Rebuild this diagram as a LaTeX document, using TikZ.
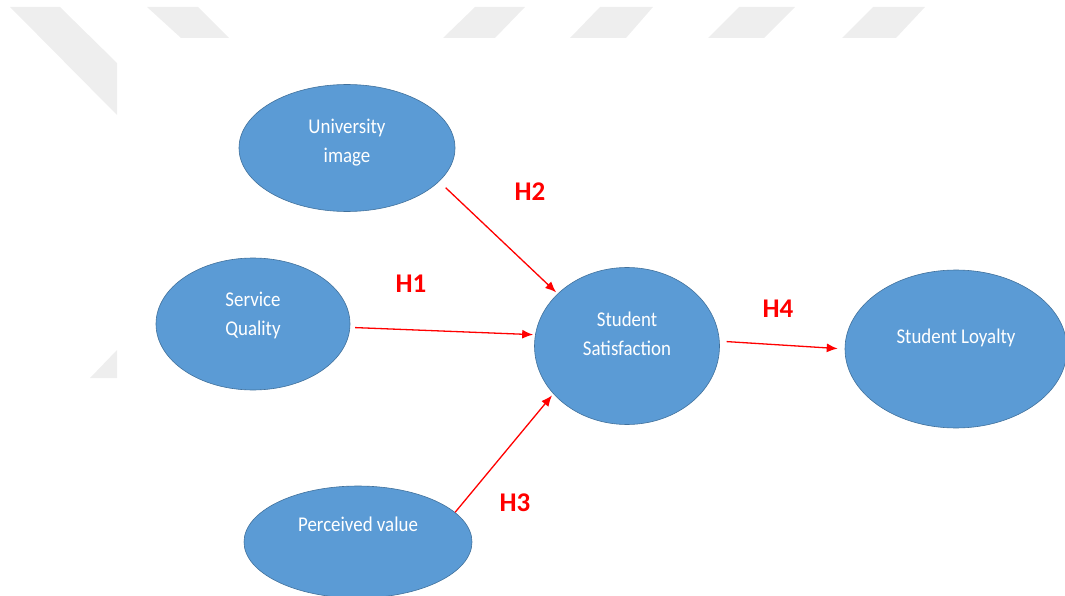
\documentclass[tikz,border=0pt]{standalone}
\usepackage{fontspec}
\setmainfont{Carlito}
\newfontfamily\bubblefont{Carlito}[FakeStretch=0.9]
\usetikzlibrary{shapes.geometric,arrows.meta}

\definecolor{bubbleblue}{RGB}{91,155,213}
\definecolor{bubbleedge}{RGB}{65,113,156}
\definecolor{hypred}{RGB}{255,0,0}
\definecolor{wmgray}{RGB}{238,238,238}

\tikzset{
  construct/.style={ellipse, draw=bubbleedge, fill=bubbleblue, line width=0.6pt,
    text=white, align=center, inner sep=0pt,
    font=\bubblefont\fontsize{21}{29}\selectfont},
  hyp/.style={draw=hypred, line width=1.3pt, -{Latex[length=11pt,width=9pt]}},
  hyplabel/.style={text=hypred, font=\bfseries\fontsize{27}{30}\selectfont},
  wm/.style={fill=wmgray, draw=none}
}

\begin{document}
\begin{tikzpicture}[x=1pt,y=-1pt]

    \useasboundingbox (0,0) rectangle (1065,596);

    \fill[wm] (10,7) -- (60,7) -- (117,63) -- (117,115) -- cycle;
    \fill[wm] (147,7) -- (198,7) -- (229,38) -- (181,38) -- cycle;
    \fill[wm] (475,7) -- (525,7) -- (495,38) -- (443,38) -- cycle;
    \fill[wm] (600,7) -- (653,7) -- (626,38) -- (570,38) -- cycle;
    \fill[wm] (739,7) -- (795,7) -- (764,38) -- (708,38) -- cycle;
    \fill[wm] (873,7) -- (925,7) -- (896,38) -- (842,38) -- cycle;
    \fill[wm] (117,350) -- (117,378) -- (90,378) -- cycle;

    \node[construct,
    minimum width=216pt,
    minimum height=127pt,
    text depth=14pt] (ui) at (347,148) {University\\image};

    \node[construct,
    minimum width=194pt,
    minimum height=132pt,
    text depth=21pt] (sq) at (253,324) {Service\\Quality};

    \node[construct,
    minimum width=185pt,
    minimum height=157pt,
    text depth=25pt] (ss) at (627,346) {Student\\Satisfaction};

    \node[construct,
    minimum width=222pt,
    minimum height=158pt,
    text depth=25pt] (sl) at (956,349) {Student Loyalty};

    \node[construct,
    minimum width=228pt,
    minimum height=112pt,
    text depth=36pt] (pv) at (358,542) {Perceived value};

    \draw[hyp, shorten <=5pt, shorten >=2pt] (sq.-2) -- (ss.173);
    \draw[hyp, shorten <=9pt, shorten >=2pt] (ui.-20) -- (ss.143);
    \draw[hyp, shorten >=2pt] (pv.17) -- (ss.-147);
    \draw[hyp, shorten <=7pt, shorten >=7pt] (ss.3) -- (sl.180);

    \node[hyplabel] (h1) at (411,284) {H1};
    \node[hyplabel] (h2) at (530,192) {H2};
    \node[hyplabel] (h3) at (515,503) {H3};
    \node[hyplabel] (h4) at (778,309) {H4};

\end{tikzpicture}
\end{document}
